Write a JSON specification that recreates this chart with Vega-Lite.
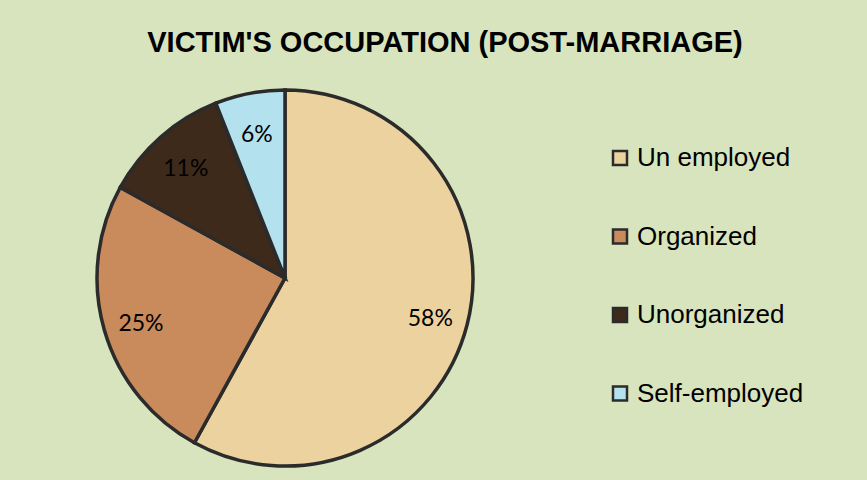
{
  "$schema": "https://vega.github.io/schema/vega-lite/v6.json",
  "autosize": "none",
  "width": 376,
  "height": 376,
  "padding": {"left": 97, "top": 90, "right": 394, "bottom": 14},
  "background": "#d7e4bd",
  "title": {
    "text": "VICTIM'S OCCUPATION (POST-MARRIAGE)",
    "font": "Liberation Sans",
    "fontSize": 29,
    "fontWeight": "bold",
    "color": "#000000",
    "anchor": "middle",
    "dx": 160,
    "baseline": "alphabetic",
    "offset": 2
  },
  "data": {
    "values": [
      {"category": "Un employed", "value": 58, "order": 1, "label": "58%"},
      {"category": "Organized", "value": 25, "order": 2, "label": "25%"},
      {"category": "Unorganized", "value": 11, "order": 3, "label": "11%"},
      {"category": "Self-employed", "value": 6, "order": 4, "label": "6%"}
    ]
  },
  "encoding": {
    "theta": {"field": "value", "type": "quantitative", "stack": true},
    "order": {"field": "order", "type": "quantitative"}
  },
  "layer": [
    {
      "mark": {"type": "arc", "outerRadius": 188, "stroke": "#2b2b2b", "strokeWidth": 3.5},
      "encoding": {
        "color": {
          "field": "category",
          "type": "nominal",
          "sort": ["Un employed", "Organized", "Unorganized", "Self-employed"],
          "scale": {
            "domain": ["Un employed", "Organized", "Unorganized", "Self-employed"],
            "range": ["#ebd29f", "#c98a5c", "#3e2a1b", "#b3e2ee"]
          },
          "legend": {
            "title": null,
            "orient": "none",
            "legendX": 510,
            "legendY": 55,
            "symbolType": "square",
            "symbolSize": 196,
            "symbolStrokeColor": "#2b2b2b",
            "symbolStrokeWidth": 2.5,
            "labelFont": "Liberation Sans",
            "labelFontSize": 26,
            "labelColor": "#000000",
            "labelOffset": 4,
            "rowPadding": 52.5,
            "labelLimit": 300
          }
        }
      }
    },
    {
      "mark": {"type": "text", "radius": 150, "dy": 4, "font": "Lato", "fontSize": 23, "color": "#000000", "align": "center", "baseline": "middle"},
      "encoding": {
        "text": {"field": "label", "type": "nominal"}
      }
    }
  ]
}
